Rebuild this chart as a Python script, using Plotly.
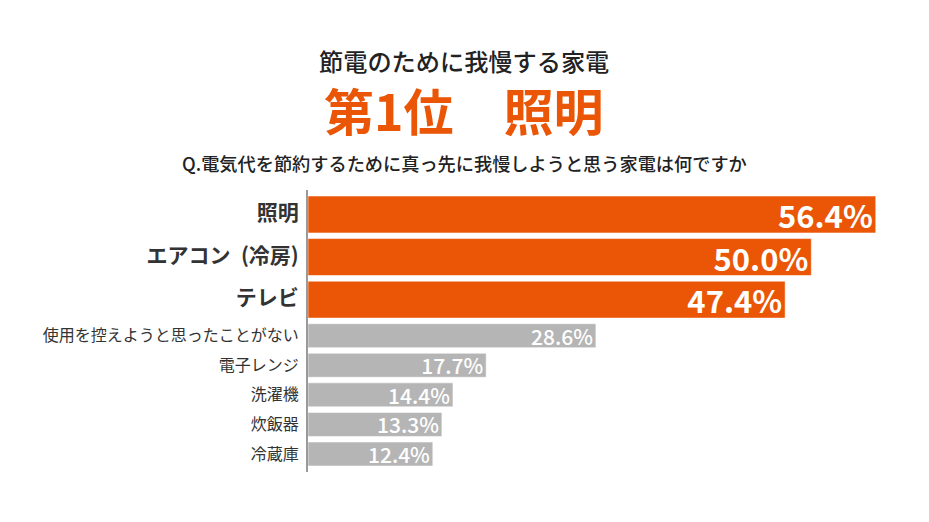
import plotly.graph_objects as go

# ---- data ----
categories = ["照明", "エアコン\u2002(冷房)", "テレビ", "使用を控えようと思ったことがない",
              "電子レンジ", "洗濯機", "炊飯器", "冷蔵庫"]
values = [56.4, 50.0, 47.4, 28.6, 17.7, 14.4, 13.3, 12.4]
highlight = [True, True, True, False, False, False, False, False]

title1 = "節電のために我慢する家電"
title2 = "第1位　照明"
title3 = "Q.電気代を節約するために真っ先に我慢しようと思う家電は何ですか"

# ---- styling ----
ORANGE = "#EA5506"
GREY = "#B5B5B5"
FONT = "Noto Sans CJK JP"
OFF = 8  # page body margin
PAGE_W, PAGE_H = 929, 522
W, H = PAGE_W - 2 * OFF, PAGE_H - 2 * OFF
AXIS_X, PLOT_TOP, PLOT_BOTTOM = 308, 190, 472   # page pixels
L = AXIS_X - OFF
T = PLOT_TOP - OFF
B = H - (PLOT_BOTTOM - OFF)
XMAX = 60
PLOT_W = 604
R = W - L - PLOT_W
PLOT_H = H - T - B

BIG, SMALL, GAP, PAD = 37.0, 24.0, 5.6, 6.0

widths = [BIG if h else SMALL for h in highlight]
centers = []
pos = 0.0
for w in widths:
    centers.append(pos + w / 2)
    pos += w + GAP

colors = [ORANGE if h else GREY for h in highlight]
texts = [f"<b>{v:.1f}%</b>" if h else f"{v:.1f}%" for v, h in zip(values, highlight)]
tsizes = [31 if h else 21 for h in highlight]
tweights = [700 if h else 500 for h in highlight]

ticktext = [
    f"<span style='font-size:21px'><b>{c}</b></span>" if h else c
    for c, h in zip(categories, highlight)
]

fig = go.Figure(
    go.Bar(
        x=values,
        y=centers,
        width=widths,
        orientation="h",
        marker=dict(color=colors, line=dict(color="rgba(255,255,255,0.55)", width=1)),
        text=texts,
        textposition="inside",
        insidetextanchor="end",
        constraintext="none",
        textfont=dict(family=FONT, size=tsizes, color="white", weight=tweights),
        hoverinfo="skip",
    )
)

fig.update_layout(
    width=W,
    height=H,
    margin=dict(l=L, r=R, t=T, b=B, pad=0, autoexpand=False),
    paper_bgcolor="white",
    plot_bgcolor="white",
    showlegend=False,
    font=dict(family=FONT, color="#333333"),
    xaxis=dict(range=[0, XMAX], visible=False, fixedrange=True, automargin=False),
    yaxis=dict(
        range=[pos - GAP + PAD, -PAD],
        tickmode="array",
        tickvals=centers,
        ticktext=ticktext,
        tickfont=dict(family=FONT, size=16, color="#333333"),
        showgrid=False,
        zeroline=False,
        showline=True,
        linecolor="#9a9a9a",
        linewidth=2,
        ticks="",
        ticklabelstandoff=4,
        automargin=False,
    ),
)


def py(pix):
    return (PLOT_BOTTOM - pix) / PLOT_H


cx = (464 - AXIS_X) / PLOT_W
fig.add_annotation(text=title1, x=cx, y=py(60), xref="paper", yref="paper",
                   showarrow=False, xanchor="center", yanchor="middle", height=28,
                   font=dict(family=FONT, size=24.2, color="#222222", weight=500))
fig.add_annotation(text=f"<b>{title2}</b>", x=cx, y=py(109), xref="paper", yref="paper",
                   showarrow=False, xanchor="center", yanchor="middle", height=54,
                   font=dict(family=FONT, size=50, color=ORANGE))
fig.add_annotation(text=title3, x=cx, y=py(163), xref="paper", yref="paper",
                   showarrow=False, xanchor="center", yanchor="middle",
                   font=dict(family=FONT, size=18.2, color="#222222", weight=500))

fig.write_html("out.html")
